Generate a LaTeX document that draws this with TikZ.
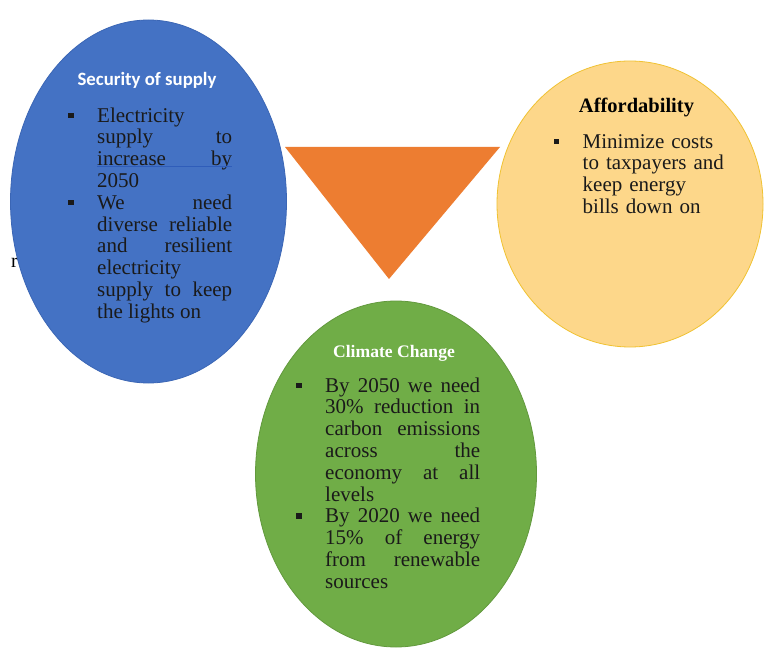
\documentclass[tikz,border=0pt]{standalone}
\usepackage{fontspec}
\setmainfont{Liberation Serif}
\newfontfamily\headsans{Carlito}
\usetikzlibrary{shapes.geometric}

\definecolor{secblue}{HTML}{4472C4}
\definecolor{secedge}{HTML}{3B66B5}
\definecolor{affgold}{HTML}{FDD78A}
\definecolor{affedge}{HTML}{F0C232}
\definecolor{climgreen}{HTML}{70AD47}
\definecolor{climedge}{HTML}{62993D}
\definecolor{pyramid}{HTML}{ED7D31}
\definecolor{bodyink}{HTML}{1A1A1A}
\definecolor{inkline}{HTML}{2F5DBA}

% square list marker hung to the left of each paragraph
\newcommand\sqmark{\noindent\llap{\rule[4pt]{5.5pt}{5.5pt}\hspace{23.5pt}}}

\tikzset{
  pillar/.style={ellipse, inner sep=0pt, line width=0.8pt},
  headline/.style={inner sep=0pt, anchor=base},
  bodytext/.style={inner sep=0pt, anchor=north west, text=bodyink,
    font=\fontsize{21}{21.8}\selectfont},
}

\begin{document}
\begin{tikzpicture}[x=1pt,y=-1pt]
\useasboundingbox (0,0) rectangle (768,652);
\fill[white] (0,0) rectangle (768,652);

% stray character at the left margin
\node[inner sep=0pt, anchor=base west, font=\fontsize{20}{22}\selectfont] (stray) at (11,268) {r};

% central triangle
\coordinate (tl) at (285,147);
\coordinate (tr) at (500,147);
\coordinate (tb) at (389,279);
\fill[pyramid] (tl) -- (tr) -- (tb) -- cycle;

% the three pillars
\node[pillar, fill=secblue, draw=secedge, minimum width=276pt, minimum height=363pt] (security) at (148.5,201.5) {};
\node[pillar, fill=affgold, draw=affedge, minimum width=266pt, minimum height=286pt] (afford) at (630,204) {};
\node[pillar, fill=climgreen, draw=climedge, minimum width=281pt, minimum height=346pt] (climate) at (396,474) {};

% headings
\node[headline, text=white, font=\headsans\bfseries\fontsize{18.8}{21}\selectfont] (securityhead) at (147,86) {Security of supply};
\node[headline, text=black, font=\bfseries\fontsize{20.5}{22}\selectfont] (affordhead) at (636.5,113) {Affordability};
\node[headline, text=white, font=\bfseries\fontsize{17.6}{20}\selectfont] (climatehead) at (394,357) {Climate Change};

% Security of supply: justified list
\node[bodytext, text width=135pt, align=justify] (securitytext) at (97,106.7) {%
\tolerance=10000\hbadness=10000
\sqmark\strut Electricity\linebreak supply to\linebreak increase by\linebreak 2050\par
\sqmark\strut We need\linebreak diverse reliable\linebreak and resilient\linebreak electricity\linebreak supply to keep\linebreak the lights on\par};
\coordinate (ulstart) at (97,166.3);
\coordinate (ulend) at (232,166.3);
\draw[inkline, line width=0.8pt] (ulstart) -- (ulend);

% Affordability: ragged list
\node[bodytext, text width=150pt, align=left] (affordtext) at (582.5,132.7) {%
\sqmark\strut Minimize costs\\ to taxpayers and\\ keep energy\\ bills down on};

% Climate Change: justified list
\node[bodytext, text width=155pt, align=justify] (climatetext) at (325,376.7) {%
\tolerance=10000\hbadness=10000
\sqmark\strut By 2050 we need\linebreak 30\% reduction in\linebreak carbon emissions\linebreak across the\linebreak economy at all\linebreak levels\par
\sqmark\strut By 2020 we need\linebreak 15\% of energy\linebreak from renewable\linebreak sources\par};
\end{tikzpicture}
\end{document}
